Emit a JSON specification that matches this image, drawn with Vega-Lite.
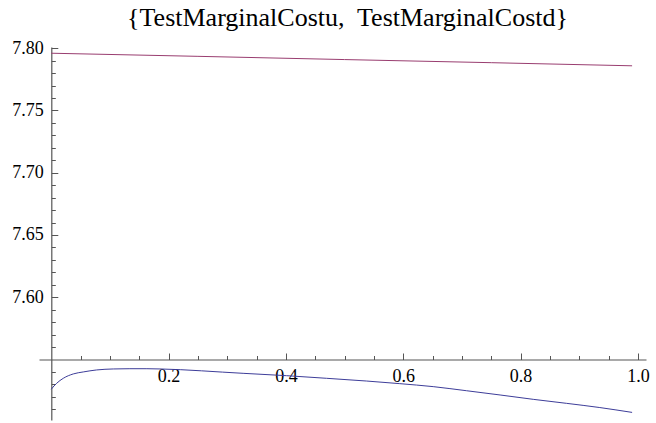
{
  "$schema": "https://vega.github.io/schema/vega-lite/v6.json",
  "width": 607,
  "height": 373,
  "autosize": {"type": "none"},
  "padding": {"left": 39, "top": 47, "right": 10, "bottom": 3},
  "background": "white",
  "config": {
    "view": {"stroke": null},
    "style": {"guide-label": {"font": "Liberation Serif", "fontSize": 18, "fill": "black"}}
  },
  "title": {
    "text": "{TestMarginalCostu,\u00a0 TestMarginalCostd}",
    "font": "Liberation Serif",
    "fontSize": 26,
    "fontWeight": "normal",
    "color": "black",
    "anchor": "middle",
    "baseline": "alphabetic",
    "offset": -13,
    "dx": 5
  },
  "data": {
    "values": [
      {"x": 0.0, "y": 7.7960, "s": "TestMarginalCostd"},
      {"x": 0.25, "y": 7.7935, "s": "TestMarginalCostd"},
      {"x": 0.5, "y": 7.7909, "s": "TestMarginalCostd"},
      {"x": 0.75, "y": 7.7884, "s": "TestMarginalCostd"},
      {"x": 0.99, "y": 7.7859, "s": "TestMarginalCostd"},
      {"x": 0.0, "y": 7.5261, "s": "TestMarginalCostu"},
      {"x": 0.0046, "y": 7.5287, "s": "TestMarginalCostu"},
      {"x": 0.0092, "y": 7.5309, "s": "TestMarginalCostu"},
      {"x": 0.0205, "y": 7.5349, "s": "TestMarginalCostu"},
      {"x": 0.0375, "y": 7.5384, "s": "TestMarginalCostu"},
      {"x": 0.0545, "y": 7.5400, "s": "TestMarginalCostu"},
      {"x": 0.0774, "y": 7.5416, "s": "TestMarginalCostu"},
      {"x": 0.1057, "y": 7.5424, "s": "TestMarginalCostu"},
      {"x": 0.134, "y": 7.5426, "s": "TestMarginalCostu"},
      {"x": 0.163, "y": 7.5426, "s": "TestMarginalCostu"},
      {"x": 0.1853, "y": 7.5424, "s": "TestMarginalCostu"},
      {"x": 0.327, "y": 7.5389, "s": "TestMarginalCostu"},
      {"x": 0.401, "y": 7.5370, "s": "TestMarginalCostu"},
      {"x": 0.469, "y": 7.5349, "s": "TestMarginalCostu"},
      {"x": 0.5376, "y": 7.5327, "s": "TestMarginalCostu"},
      {"x": 0.594, "y": 7.5306, "s": "TestMarginalCostu"},
      {"x": 0.651, "y": 7.5282, "s": "TestMarginalCostu"},
      {"x": 0.708, "y": 7.5249, "s": "TestMarginalCostu"},
      {"x": 0.765, "y": 7.5215, "s": "TestMarginalCostu"},
      {"x": 0.8215, "y": 7.5180, "s": "TestMarginalCostu"},
      {"x": 0.878, "y": 7.5148, "s": "TestMarginalCostu"},
      {"x": 0.935, "y": 7.5114, "s": "TestMarginalCostu"},
      {"x": 0.99, "y": 7.5075, "s": "TestMarginalCostu"}
    ]
  },
  "mark": {"type": "line", "strokeWidth": 1, "interpolate": "monotone", "clip": false},
  "encoding": {
    "x": {
      "field": "x",
      "type": "quantitative",
      "scale": {"domain": [-0.0209, 1.0137], "nice": false, "zero": false},
      "axis": {
        "title": null,
        "orient": "bottom",
        "offset": -60.5,
        "grid": false,
        "values": [0.05, 0.1, 0.15, 0.2, 0.25, 0.3, 0.35, 0.4, 0.45, 0.5, 0.55, 0.6, 0.65, 0.7, 0.75, 0.8, 0.85, 0.9, 0.95, 1.0],
        "labelExpr": "round(datum.value*100) % 20 == 0 ? format(datum.value, '.1f') : ''",
        "domainColor": "#555555",
        "domainWidth": 1.2,
        "tickColor": "#555555",
        "tickWidth": 1,
        "tickSize": {"condition": {"test": "round(datum.value*100) % 20 == 0", "value": -6.5}, "value": -4},
        "labelFont": "serif",
        "labelFontSize": 18,
        "labelColor": "black",
        "labelPadding": 14.5,
        "labelFlush": false,
        "labelOverlap": false
      }
    },
    "y": {
      "field": "y",
      "type": "quantitative",
      "scale": {"domain": [7.5014, 7.801], "nice": false, "zero": false},
      "axis": {
        "title": null,
        "orient": "left",
        "offset": -12.3,
        "grid": false,
        "values": [7.51, 7.52, 7.53, 7.54, 7.56, 7.57, 7.58, 7.59, 7.6, 7.61, 7.62, 7.63, 7.64, 7.65, 7.66, 7.67, 7.68, 7.69, 7.7, 7.71, 7.72, 7.73, 7.74, 7.75, 7.76, 7.77, 7.78, 7.79, 7.8],
        "labelExpr": "(datum.value > 7.595 && round(datum.value*100) % 5 == 0) ? format(datum.value, '.2f') : ''",
        "domainColor": "#555555",
        "domainWidth": 1.2,
        "tickColor": "#555555",
        "tickWidth": 1,
        "tickSize": {"condition": {"test": "round(datum.value*100) % 5 == 0", "value": -6.5}, "value": -4},
        "labelFont": "Times New Roman",
        "labelFontSize": 18,
        "labelColor": "black",
        "labelPadding": 14.5,
        "labelFlush": false,
        "labelOverlap": false
      }
    },
    "color": {
      "field": "s",
      "type": "nominal",
      "scale": {"domain": ["TestMarginalCostu", "TestMarginalCostd"], "range": ["#3d3d99", "#993d70"]},
      "legend": null
    }
  }
}
